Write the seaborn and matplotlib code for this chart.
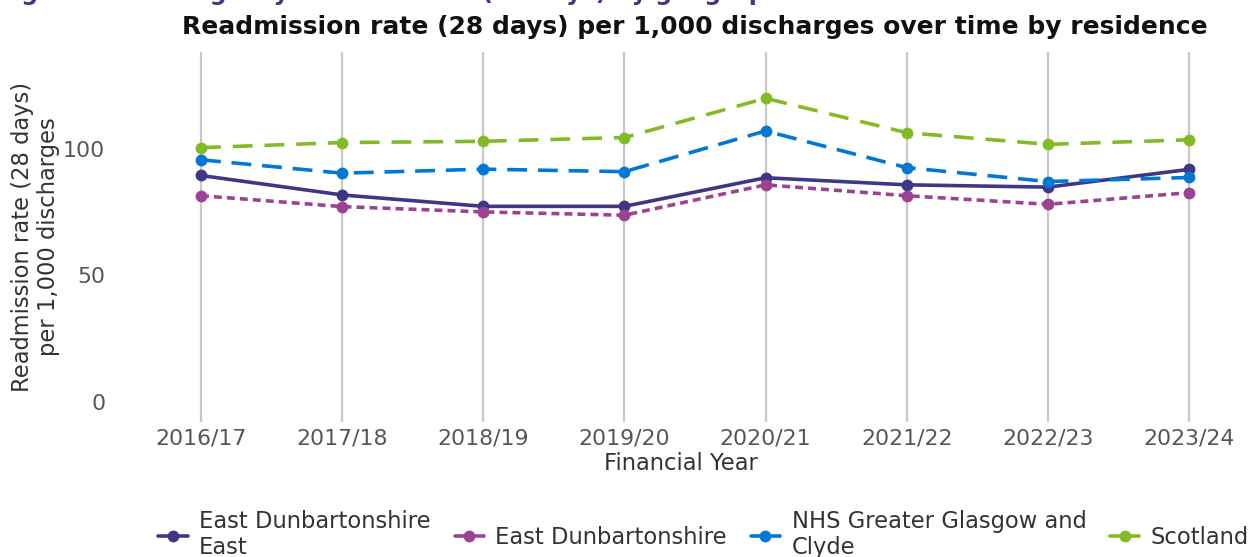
import matplotlib
matplotlib.use("Agg")
import matplotlib.pyplot as plt
import seaborn as sns
import pandas as pd
from matplotlib.lines import Line2D

years = ["2016/17", "2017/18", "2018/19", "2019/20", "2020/21", "2021/22", "2022/23", "2023/24"]
ed_east = [89.5, 81.8, 77.3, 77.3, 88.6, 85.8, 84.9, 91.9]
ed = [81.5, 77.2, 75.1, 73.8, 85.8, 81.5, 78.1, 82.7]
nhs_ggc = [95.7, 90.4, 92.0, 91.0, 107.1, 92.6, 87.1, 88.7]
scotland = [100.5, 102.5, 103.0, 104.5, 120.0, 106.4, 101.8, 103.6]

series_names = ["East Dunbartonshire\nEast", "East Dunbartonshire", "NHS Greater Glasgow and\nClyde", "Scotland"]
series_values = [ed_east, ed, nhs_ggc, scotland]
colors = ["#3F3685", "#9B4393", "#0078D4", "#83BB26"]

df = pd.DataFrame({
    "year": years * 4,
    "rate": sum(series_values, []),
    "area": [n for n in series_names for _ in years],
})

sns.set_theme(style="white")
plt.rcParams["font.family"] = ["DejaVu Sans"]

fig = plt.figure(figsize=(12.53, 5.57), dpi=100)
ax = fig.add_axes([0.0928, 0.2424, 0.9012, 0.6643])

palette = dict(zip(series_names, colors))
dashes = {
    series_names[0]: "",
    series_names[1]: (2.2, 1.4),
    series_names[2]: (5.5, 3.0),
    series_names[3]: (5.5, 3.3),
}
markers = {n: "o" for n in series_names}

sns.lineplot(data=df, x="year", y="rate", hue="area", style="area", palette=palette,
             dashes=dashes, markers=markers, linewidth=2.6, markersize=8.5,
             markeredgewidth=0, sort=False, legend=False, ax=ax)

ax.set_xlim(-0.6, 7.4)
ax.set_ylim(-7.9, 138.3)
ax.set_yticks([0, 50, 100])
for s in ax.spines.values():
    s.set_visible(False)
ax.grid(axis="x", color="#C8C8C8", linewidth=1.6)
ax.grid(axis="y", visible=False)
ax.set_axisbelow(True)
ax.tick_params(axis="both", length=0, labelsize=15.8, labelcolor="#555555")
ax.tick_params(axis="x", pad=5)
ax.tick_params(axis="y", pad=8)
ax.set_xlabel("Financial Year", fontsize=16.3, color="#333333", labelpad=2)
ax.set_ylabel("Readmission rate (28 days)\nper 1,000 discharges", fontsize=16.3,
              color="#333333", labelpad=2, linespacing=1.15)

fig.text(0.5547, 0.9515, "Readmission rate (28 days) per 1,000 discharges over time by residence",
         ha="center", va="center", fontsize=18, fontweight="bold", color="#111111")
fig.text(-0.002, 1.0, "Figure 14: Emergency readmissions (28 days) by geograph",
         ha="left", va="baseline", fontsize=17, fontweight="bold", color="#3F3685")

handles = [Line2D([0], [0], color=c, lw=2.6, marker="o", markersize=8.5, markeredgewidth=0)
           for c in colors]
fig.legend(handles, series_names, loc="lower center", bbox_to_anchor=(0.5616, -0.041),
           ncol=4, frameon=False, fontsize=16.3, handlelength=1.3, handletextpad=0.5,
           columnspacing=1.05, labelcolor="#333333", labelspacing=0.3)

fig.savefig("out.png", dpi=100)
